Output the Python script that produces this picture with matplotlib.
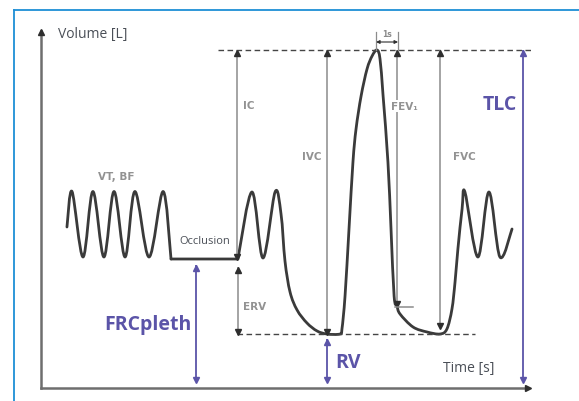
import numpy as np
import matplotlib
matplotlib.use("Agg")
import matplotlib.pyplot as plt
from matplotlib.path import Path
from matplotlib.patches import PathPatch

plt.rcParams["font.family"] = ["Open Sans", "DejaVu Sans"]

# volume levels [L]
TLC_V = 6.76
RV_V = 1.08
FRC_V = 2.58

# spirometer trace, key points (time [s], volume [L])
breath_t = [1.18, 1.41, 1.91, 2.36, 2.86, 3.32, 3.82, 4.27, 4.91, 5.55, 5.91]
breath_v = [3.22, 3.93, 2.62, 3.93, 2.62, 3.93, 2.62, 3.93, 2.62, 3.93, 2.58]

occl_t = [5.91, 8.95]
occl_v = [2.58, 2.58]

man_t = [8.95, 9.59, 10.09, 10.64, 10.91, 11.09, 11.32, 11.64, 12.09, 12.55,
         13.0, 13.59, 13.68, 13.82, 14.0, 14.18, 14.32, 14.55, 14.82, 15.05,
         15.27, 15.41, 15.55, 15.77, 15.91, 16.05, 16.18, 16.32, 16.91, 17.55,
         18.14, 18.45, 18.68, 18.82, 18.95, 19.14, 19.27, 19.86, 20.36, 20.86,
         21.41]
man_v = [2.58, 3.92, 2.6, 3.92, 3.48, 2.54, 1.92, 1.56, 1.3, 1.14,
         1.08, 1.08, 1.18, 1.84, 3.18, 4.52, 5.18, 5.84, 6.38, 6.64,
         6.76, 6.58, 5.84, 4.52, 3.18, 1.84, 1.64, 1.48, 1.22, 1.12,
         1.08, 1.18, 1.58, 2.12, 2.78, 3.58, 3.92, 2.62, 3.92, 2.62,
         3.18]

# gray measurement arrows: name, time, top, bottom
gray_names = ["IC", "ERV", "IVC", "FEV1", "FVC"]
gray_t = [8.91, 8.95, 13.0, 16.18, 18.14]
gray_top = [TLC_V, 2.42, TLC_V, TLC_V, TLC_V]
gray_bot = [FRC_V, RV_V, RV_V, 1.64, 1.2]

# purple arrows
lung_names = ["FRCpleth", "RV", "TLC"]
lung_t = [7.05, 13.0, 21.91]
lung_top = [2.46, 0.98, TLC_V]
lung_bot = [0.12, 0.12, 0.12]

TRACE = "#3a3a3a"
GRAY = "#8c8c8c"
HEAD = "#2e2e2e"
PURPLE = "#5b54a8"
TEXT = "#4a4f57"


def smooth_path(t, v):
    pts = np.column_stack([t, v])
    n = len(pts)
    verts = [pts[0]]
    codes = [Path.MOVETO]
    for i in range(n - 1):
        p0 = pts[i - 1] if i > 0 else pts[i]
        p1 = pts[i]
        p2 = pts[i + 1]
        p3 = pts[i + 2] if i + 2 < n else pts[i + 1]
        verts += [p1 + (p2 - p0) / 6, p2 - (p3 - p1) / 6, p2]
        codes += [Path.CURVE4] * 3
    return Path(verts, codes)


def varrow(ax, t, top, bot, color, head, lw=1.1):
    ax.plot([t, t], [bot, top], color=color, lw=lw, solid_capstyle="butt")
    ax.plot(t, top - 0.05, marker="^", ms=4, color=head, mec=head)
    ax.plot(t, bot + 0.05, marker="v", ms=4, color=head, mec=head)


fig = plt.figure(figsize=(5.79, 4.02), dpi=100)
ax = fig.add_axes([0, 0, 1, 1])
ax.set_xlim(-41 / 22, 538 / 22)
ax.set_ylim(-13 / 50, 389 / 50)
ax.axis("off")

# blue frame
fig.add_artist(plt.Line2D([0.0242, 0.0242], [0, 0.9726], color="#1e8fd6", lw=1.3))
fig.add_artist(plt.Line2D([0.0242, 1], [0.9726, 0.9726], color="#1e8fd6", lw=1.3))

# axes
ax.plot([0, 0], [0, 7.14], color="#6e6e6e", lw=1.8)
ax.plot([0, 22.14], [0, 0], color="#6e6e6e", lw=1.8)
ax.plot(0, 7.12, marker="^", ms=4, color=HEAD)
ax.plot(22.12, 0, marker=">", ms=4, color=HEAD)
ax.text(0.77, 7.1, "Volume [L]", fontsize=10, color=TEXT, ha="left", va="center")
ax.text(18.27, 0.4, "Time [s]", fontsize=10, color=TEXT, ha="left", va="center")

# TLC / RV dashed levels
ax.plot([8.05, 22.36], [TLC_V, TLC_V], color="#454545", lw=1.0, ls=(0, (4, 2.5)))
ax.plot([8.91, 19.73], [RV_V, RV_V], color="#454545", lw=1.0, ls=(0, (4, 2.5)))

for name, t, top, bot in zip(gray_names, gray_t, gray_top, gray_bot):
    varrow(ax, t, top, bot, GRAY, HEAD)
ax.plot([16.09, 16.91], [1.62, 1.62], color=GRAY, lw=1.1)

for name, t, top, bot in zip(lung_names, lung_t, lung_top, lung_bot):
    varrow(ax, t, top, bot, PURPLE, PURPLE, lw=1.3)

# trace
for tt, vv in [(breath_t, breath_v), (occl_t, occl_v), (man_t, man_v)]:
    ax.add_patch(PathPatch(smooth_path(tt, vv), fill=False, ec=TRACE, lw=2.0,
                           capstyle="round", joinstyle="round"))

# 1 s marker
ax.plot([15.23, 15.23], [TLC_V, 7.12], color=GRAY, lw=0.9)
ax.plot([16.23, 16.23], [TLC_V, 7.12], color=GRAY, lw=0.9)
ax.annotate("", xy=(15.23, 6.92), xytext=(16.23, 6.92),
            arrowprops=dict(arrowstyle="<|-|>", color=HEAD, lw=0.8,
                            mutation_scale=5, shrinkA=0, shrinkB=0))
ax.text(15.73, 7.1, "1s", fontsize=5.5, color="#8a8a8a", ha="center",
        va="center", family="DejaVu Sans", fontweight="bold")

# labels
small = dict(fontsize=7.5, color="#929292", va="center", family="DejaVu Sans",
             fontweight="bold")
ax.text(3.41, 4.24, "VT, BF", ha="center", **small)
ax.text(9.18, 5.66, "IC", ha="left", **small)
ax.text(12.77, 4.64, "IVC", ha="right", **small)
ax.text(15.9, 5.64, "FEV₁", ha="left",
        bbox=dict(fc="white", ec="none", pad=1), **small)
ax.text(18.73, 4.64, "FVC", ha="left", **small)
ax.text(9.18, 1.64, "ERV", ha="left", **small)
ax.text(6.27, 2.94, "Occlusion", fontsize=8, color=TEXT, ha="left", va="center")

big = dict(fontsize=14, color=PURPLE, fontweight="bold", va="center")
ax.text(21.64, 5.68, "TLC", ha="right", **big)
ax.text(13.36, 0.52, "RV", ha="left", **big)
ax.text(6.86, 1.28, "FRCpleth", ha="right", **big)

fig.savefig("out.png", dpi=100)
